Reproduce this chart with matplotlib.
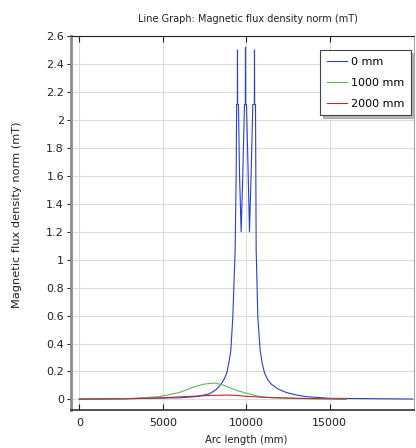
import matplotlib.pyplot as plt
import numpy as np

# arc length (mm) / flux density norm (mT)
x_0mm = [0, 3000, 6000, 7000, 7800, 8200, 8500, 8700, 8840, 8960, 9080, 9200, 9340,
         9400, 9430, 9470, 9480, 9490, 9540, 9600, 9700, 9800, 9900, 9950, 9960,
         9970, 10020, 10120, 10200, 10300, 10400, 10490, 10500, 10510, 10560,
         10580, 10600, 10700, 10840, 10960, 11100, 11300, 11500, 11900, 12400,
         13000, 13600, 15000, 20000]
y_0mm = [0.003, 0.006, 0.012, 0.02, 0.04, 0.07, 0.11, 0.15, 0.19, 0.26, 0.35, 0.59, 1.07,
         1.6, 2.11, 2.11, 2.5, 2.11, 2.11, 1.62, 1.2, 1.62, 2.11, 2.11, 2.52,
         2.11, 2.11, 1.62, 1.2, 1.62, 2.11, 2.11, 2.5, 2.11, 2.11,
         1.6, 1.07, 0.59, 0.35, 0.26, 0.19, 0.14, 0.11, 0.075, 0.05,
         0.032, 0.02, 0.008, 0.003]

x_1000mm = [0, 3000, 4800, 6000, 7000, 7500, 8100, 8500, 9000, 9500, 10000, 10800,
            11500, 13000, 16000]
y_1000mm = [0.002, 0.006, 0.02, 0.05, 0.095, 0.11, 0.117, 0.108, 0.084, 0.062, 0.045,
            0.02, 0.012, 0.006, 0.003]

x_2000mm = [0, 2600, 4000, 5000, 6000, 7000, 8000, 8800, 9500, 10000, 11000, 12000,
            13000, 14000, 16000]
y_2000mm = [0.002, 0.004, 0.008, 0.012, 0.018, 0.024, 0.029, 0.031, 0.028, 0.022, 0.016,
            0.012, 0.009, 0.006, 0.003]

xticks = [0, 5000, 10000, 15000]
yticks = np.round(np.arange(0, 2.61, 0.2), 1)

plt.rcParams['font.family'] = 'DejaVu Sans'
plt.rcParams['font.size'] = 8

fig = plt.figure(figsize=(4.16, 4.48), dpi=100)
ax = fig.add_axes([0.1707, 0.085, 0.824, 0.8346])

ax.plot(x_0mm, y_0mm, color='#2a3fd0', lw=0.8, label='0 mm')
ax.plot(x_1000mm, y_1000mm, color='#5cb85c', lw=0.8, label='1000 mm')
ax.plot(x_2000mm, y_2000mm, color='#c0282d', lw=0.8, label='2000 mm')

ax.set_xlim(-500, 20050)
ax.set_ylim(-0.075, 2.6)
ax.set_xticks(xticks)
ax.set_xticklabels([str(t) for t in xticks])
ax.set_yticks(yticks)
ax.set_yticklabels(['0' if t == 0 else ('%g' % t) for t in yticks])

ax.grid(True, color='#dcdcdc', lw=0.8)
ax.tick_params(axis='x', direction='in', top=True, length=4, pad=6, colors='#222222')
ax.tick_params(axis='y', direction='out', length=3, pad=2, colors='#222222')

ax.spines['left'].set_color('#8c8c8c')
ax.spines['left'].set_linewidth(2)
ax.spines['bottom'].set_color('#333333')
ax.spines['bottom'].set_linewidth(1.2)
ax.spines['top'].set_color('#222222')
ax.spines['right'].set_color('#aaaaaa')

ax.set_title('Line Graph: Magnetic flux density norm (mT)', fontsize=7, x=0.515,
             pad=10, color='#222222')
ax.set_xlabel('Arc length (mm)', fontsize=7.3, color='#222222')
ax.set_ylabel('Magnetic flux density norm (mT)', fontsize=8.2, color='#222222')
ax.xaxis.set_label_coords(0.51, -0.066)
ax.yaxis.set_label_coords(-0.143, 0.521)

leg = ax.legend(loc='upper right', bbox_to_anchor=(0.991, 0.963), borderaxespad=0,
                fancybox=False, shadow={'color': '#999999', 'alpha': 0.7},
                framealpha=1, edgecolor='#444444', handlelength=1.8,
                handletextpad=0.35, borderpad=0.6, labelspacing=1.0, fontsize=8)
leg.get_frame().set_linewidth(0.8)

fig.savefig('out.png', dpi=100)
